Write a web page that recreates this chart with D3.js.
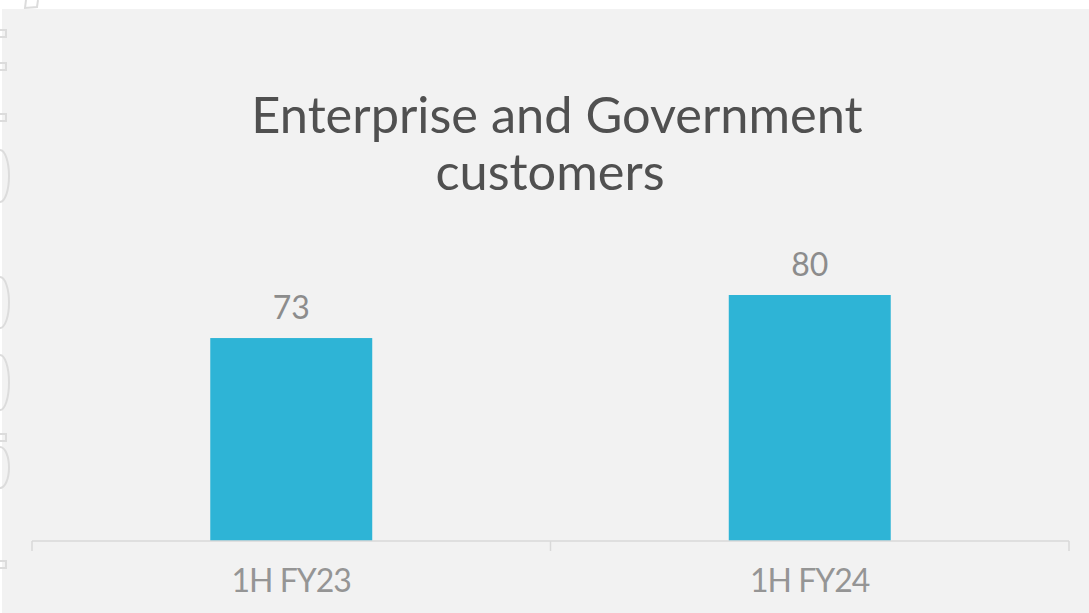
<!DOCTYPE html>
<html>
<head>
<meta charset="utf-8">
<script src="https://cdn.jsdelivr.net/npm/d3@7"></script>
<style>
  html, body { margin: 0; padding: 0; background: #ffffff; }
  svg { display: block; }
</style>
</head>
<body>
<svg id="chart" width="1089" height="613"></svg>
<script>
// Customer counts by half-year
const categories = ["1H FY23", "1H FY24"];
const customers = [73, 80];
const titleLines = ["Enterprise and Government", "customers"];

const W = 1089, H = 613;
const svg = d3.select("#chart");

// Panel background
svg.append("rect")
  .attr("x", 2).attr("y", 9)
  .attr("width", W - 2).attr("height", H - 9)
  .attr("fill", "#f2f2f2");

// Faint slide ornaments along the left edge
const deco = svg.append("g").attr("fill", "none").attr("stroke", "#dcdcdc").attr("stroke-width", 2);
[33, 66, 117, 437, 564].forEach(y => {
  deco.append("rect").attr("x", -3).attr("y", y - 3).attr("width", 9).attr("height", 7);
});
[[150, 202], [277, 328], [355, 410], [447, 488]].forEach(([a, b]) => {
  const ry = (b - a) / 2;
  deco.append("path").attr("d", `M0,${a} A9,${ry} 0 0 1 0,${b}`);
});
deco.append("path").attr("d", "M26,0 L25,8 L37,7 L38,0");

// Scales
const x = d3.scaleBand()
  .domain(categories)
  .range([32, 1069])
  .paddingInner(0.6876)
  .paddingOuter(0.3438);

const y = d3.scaleLinear()
  .domain([40, 100])
  .range([541, 172]);

const fontFamily = "Lato, 'Open Sans', sans-serif";

// Title (two centred lines)
const titleX = [557, 550];
svg.append("text")
  .attr("text-anchor", "middle")
  .attr("font-family", fontFamily)
  .attr("font-size", 50.5)
  .attr("fill", "#505050")
  .selectAll("tspan")
  .data(titleLines)
  .join("tspan")
  .attr("x", (d, i) => titleX[i])
  .attr("y", (d, i) => 133 + i * 57)
  .text(d => d);

// Bars
svg.append("g")
  .selectAll("rect")
  .data(customers)
  .join("rect")
  .attr("x", (d, i) => x(categories[i]))
  .attr("y", d => y(d))
  .attr("width", x.bandwidth())
  .attr("height", d => y(40) - y(d))
  .attr("fill", "#2eb4d6");

// Value labels
svg.append("g")
  .selectAll("text")
  .data(customers)
  .join("text")
  .attr("x", (d, i) => x(categories[i]) + x.bandwidth() / 2)
  .attr("y", d => y(d) - 19)
  .attr("text-anchor", "middle")
  .attr("font-family", fontFamily)
  .attr("font-size", 32)
  .attr("fill", "#8c8c8c")
  .text(d => d);

// Category axis
const axis = d3.axisBottom(x).tickSize(10).tickSizeOuter(10).tickPadding(18);
const gx = svg.append("g").attr("transform", "translate(0,541)").call(axis);
// Ticks at category boundaries instead of centers
gx.selectAll(".tick line").remove();
const bounds = [32, (x(categories[0]) + x.bandwidth() + x(categories[1])) / 2, 1069];
gx.selectAll(".bound").data(bounds).join("line")
  .attr("class", "bound")
  .attr("x1", d => d).attr("x2", d => d)
  .attr("y1", 0).attr("y2", 10)
  .attr("stroke", "#d9d9d9").attr("stroke-width", 1.5);
gx.select(".domain").attr("d", "M32,0H1069").attr("stroke", "#d9d9d9").attr("stroke-width", 1.5);
gx.selectAll(".tick text")
  .attr("font-family", fontFamily)
  .attr("font-size", 32)
  .attr("letter-spacing", -1)
  .attr("fill", "#959595");
</script>
</body>
</html>
